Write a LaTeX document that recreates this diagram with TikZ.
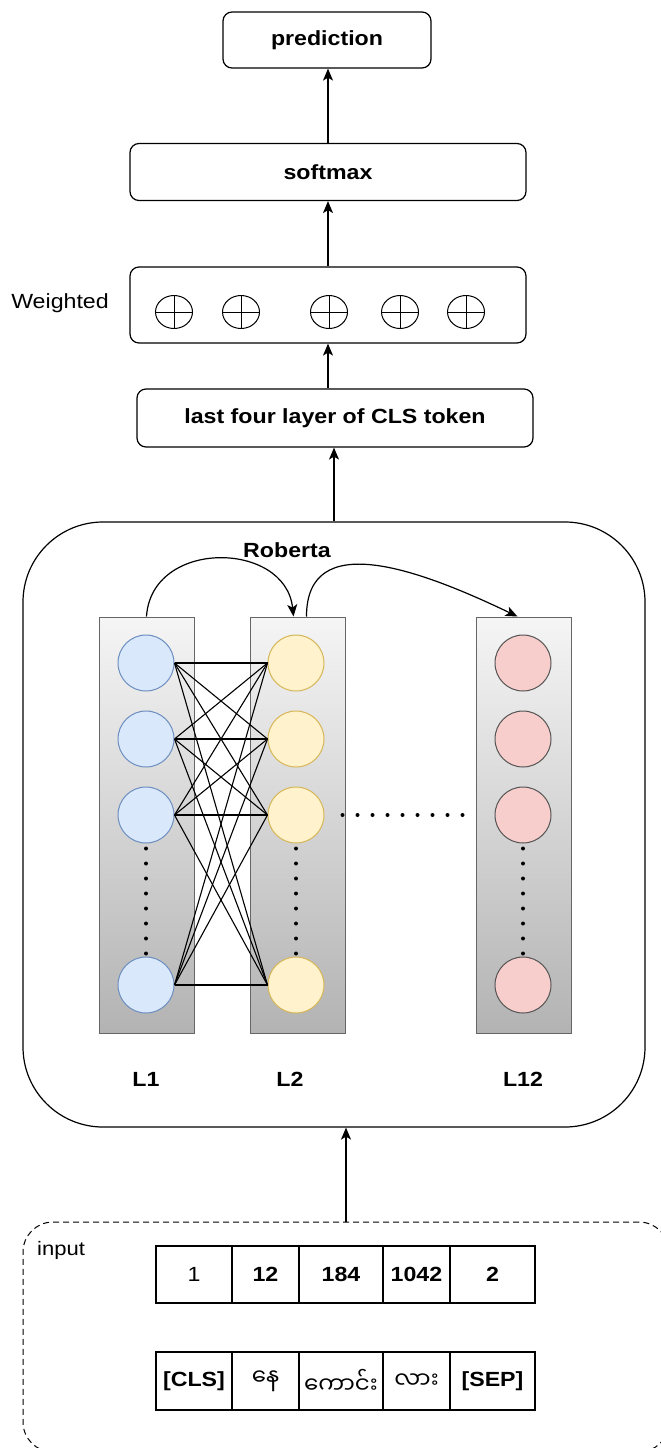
\documentclass[tikz,border=0pt]{standalone}
\usepackage{fontspec}
\setmainfont{Liberation Sans}[FakeStretch=1.13]
\newfontfamily\mmfont[Script=Myanmar]{Noto Sans Myanmar UI}
\usetikzlibrary{positioning,arrows.meta,shapes.geometric}

\definecolor{colTop}{HTML}{F5F5F5}
\definecolor{colBot}{HTML}{B3B3B3}
\definecolor{colLine}{HTML}{666666}
\definecolor{blueFill}{HTML}{DAE8FC}
\definecolor{blueLine}{HTML}{6C8EBF}
\definecolor{yelFill}{HTML}{FFF2CC}
\definecolor{yelLine}{HTML}{D6B656}
\definecolor{redFill}{HTML}{F8CECC}
\definecolor{redLine}{HTML}{555555}

\tikzset{
  box/.style={draw, rounded corners=9pt, line width=1.2pt, inner sep=0pt,
    font=\fontsize{20.5}{24}\selectfont\bfseries},
  arr/.style={-{Stealth[length=12pt,width=10pt,inset=3pt]}, line width=1.2pt},
  oplus/.style={ellipse, draw, line width=1pt, minimum width=37pt, minimum height=33pt, inner sep=0pt,
    path picture={\draw[line width=1pt]
      (path picture bounding box.north) -- (path picture bounding box.south)
      (path picture bounding box.west) -- (path picture bounding box.east);}},
  layer/.style={draw=colLine, line width=1pt, top color=colTop, bottom color=colBot,
    minimum width=95pt, minimum height=416pt, inner sep=0pt},
  neuron/.style={circle, line width=1pt, minimum size=56pt, inner sep=0pt},
  cell/.style={draw, line width=1.2pt, outer sep=0pt, inner sep=0pt,
    font=\fontsize{20.5}{24}\selectfont\bfseries},
  mm/.style={font=\fontsize{23}{26}\mmfont},
  dots/.style={line width=4pt, line cap=round, dash pattern=on 0pt off 15pt},
  lbl/.style={font=\fontsize{20.5}{24}\selectfont\bfseries},
}

\begin{document}
\begin{tikzpicture}[x=1pt, y=-1pt]

\useasboundingbox (0,0) rectangle (661,1448);

% 上面的四个框
\node[box, minimum width=208pt, minimum height=56pt] (pred) at (327,40) {prediction};
\node[box, minimum width=396pt, minimum height=57pt] (soft) at (328,172) {softmax};
\node[box, minimum width=396pt, minimum height=76pt] (wbox) at (328,305) {};
\node[box, minimum width=396pt, minimum height=58pt] (last) at (335,418) {last four layer of CLS token};
\node[font=\fontsize{20.5}{24}\selectfont] (wlabel) at (60,303) {Weighted};

% 加权的五个圆圈
\foreach \x [count=\i] in {174,241,329,400,466}
  \node[oplus] (w\i) at (\x,312) {};

% 上面的箭头
\draw[arr] (soft.north) -- (soft.north |- pred.south);
\draw[arr] (wbox.north) -- (soft.south);
\draw[arr] (wbox.south |- last.north) -- (wbox.south);

% Roberta 大框
\node[draw, rounded corners=80pt, line width=1.2pt, minimum width=622pt,
  minimum height=605pt] (roberta) at (334,824.5) {};
\node[lbl] (rlabel) at (287,550) {Roberta};
\draw[arr] (roberta.north) -- (roberta.north |- last.south);

% 三层的灰色竖条
\node[layer] (col1) at (146.5,825) {};
\node[layer] (col2) at (297.5,825) {};
\node[layer] (col3) at (523.5,825) {};

% 每层的圆圈
\foreach \y [count=\i] in {663,739,815,985} {
  \node[neuron, fill=blueFill, draw=blueLine] (a\i) at (146,\y) {};
  \node[neuron, fill=yelFill, draw=yelLine] (b\i) at (296,\y) {};
  \node[neuron, fill=redFill, draw=redLine] (c\i) at (523,\y) {};
}

% L1 和 L2 之间全连接
\foreach \i in {1,...,4}
  \foreach \j in {1,...,4}
    \draw[line width=1.1pt] (a\i.east) -- (b\j.west);

% 省略号
\draw[dots] ([yshift=-5pt]a3.south) -- (a4.north);
\draw[dots] ([yshift=-5pt]b3.south) -- (b4.north);
\draw[dots] ([yshift=-5pt]c3.south) -- (c4.north);
\draw[dots] ([xshift=18pt]b3.east) -- ([xshift=-28pt]c3.west);

% 层与层之间的弯箭头
\draw[arr] (col1.north) .. controls +(5,-78) and +(-8,-76) .. ([xshift=-4pt]col2.north);
\draw[arr] ([xshift=9pt]col2.north) .. controls +(0,-88) and +(-100,-48) .. ([xshift=-6pt]col3.north);

% 层的名字
\node[lbl] (l1) at (146,1079) {L1};
\node[lbl] (l2) at (290,1079) {L2};
\node[lbl] (l12) at (523,1079) {L12};

% 输入虚线框
\node[draw, dash pattern=on 6pt off 4pt, rounded corners=30pt, line width=1pt, minimum width=646pt,
  minimum height=230pt] (inbox) at (346,1337) {};
\node[font=\fontsize{19.5}{22}\selectfont] (inlabel) at (61,1250) {input};
\draw[arr] (inbox.north) -- (inbox.north |- roberta.south);

% 输入的 id
\node[cell, minimum width=76pt, minimum height=57pt, font=\fontsize{20.5}{24}\selectfont] (n1) at (194,1274.5) {1};
\node[cell, minimum width=67pt, minimum height=57pt, right=0pt of n1] (n2) {12};
\node[cell, minimum width=84pt, minimum height=57pt, right=0pt of n2] (n3) {184};
\node[cell, minimum width=67pt, minimum height=57pt, right=0pt of n3] (n4) {1042};
\node[cell, minimum width=85pt, minimum height=57pt, right=0pt of n4] (n5) {2};

% 输入的词
\node[cell, minimum width=76pt, minimum height=58pt] (t1) at (194,1381) {[CLS]};
\node[cell, mm, minimum width=67pt, minimum height=58pt, right=0pt of t1] (t2) {နေ};
\node[cell, mm, minimum width=84pt, minimum height=58pt, right=0pt of t2] (t3) {ကောင်း};
\node[cell, mm, minimum width=67pt, minimum height=58pt, right=0pt of t3] (t4) {လား};
\node[cell, minimum width=85pt, minimum height=58pt, right=0pt of t4] (t5) {[SEP]};

\end{tikzpicture}
\end{document}
